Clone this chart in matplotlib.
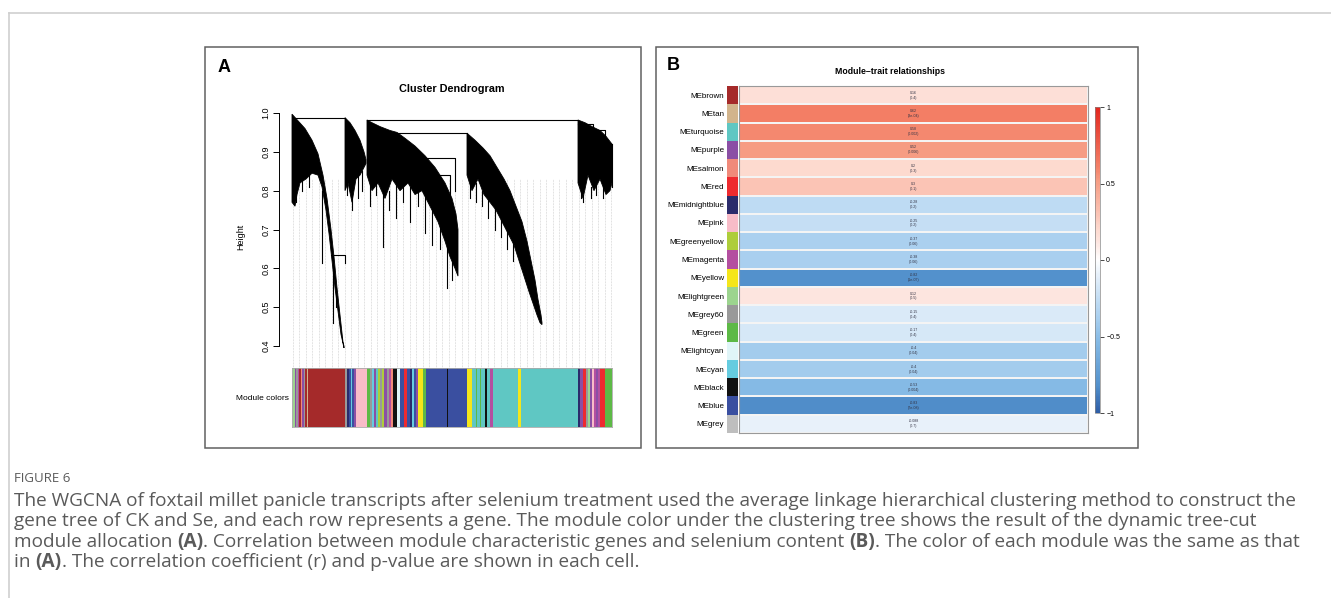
import numpy as np
import matplotlib
matplotlib.use('Agg')
import matplotlib.pyplot as plt
from matplotlib.colors import LinearSegmentedColormap, Normalize
from matplotlib.cm import ScalarMappable

# ---------------- data ----------------
modules = ["brown", "tan", "turquoise", "purple", "salmon", "red", "midnightblue", "pink",
           "greenyellow", "magenta", "yellow", "lightgreen", "grey60", "green", "lightcyan",
           "cyan", "black", "blue", "grey"]
corr = [0.16, 0.62, 0.58, 0.52, 0.2, 0.3, -0.28, -0.25, -0.37, -0.38, -0.82, 0.12,
        -0.15, -0.17, -0.4, -0.4, -0.53, -0.83, -0.088]
pvals = ["0.4", "3e-04", "0.002", "0.006", "0.3", "0.1", "0.2", "0.2", "0.06", "0.06",
         "1e-07", "0.5", "0.4", "0.4", "0.04", "0.04", "0.004", "7e-08", "0.7"]

module_hex = {"brown": "#A52A2A", "tan": "#D2B48C", "turquoise": "#5FC7C3", "purple": "#8B4FA5",
              "salmon": "#F08A7A", "red": "#EE2A2F", "midnightblue": "#2B2B6B", "pink": "#F8BCC8",
              "greenyellow": "#AECD3B", "magenta": "#B44FA0", "yellow": "#F5E61A",
              "lightgreen": "#9CD48E", "grey60": "#999999", "green": "#5DB946",
              "lightcyan": "#E0F5F8", "cyan": "#65CCE0", "black": "#111111", "blue": "#3A4FA0",
              "grey": "#BEBEBE"}

# module colour bar under the dendrogram: (module, start leaf, end leaf)
color_bar = [("grey", 0, 1), ("lightgreen", 1, 2.5), ("purple", 2.5, 4), ("grey60", 4, 5.5),
             ("magenta", 5.5, 7), ("brown", 7, 9), ("salmon", 9, 10), ("purple", 10, 12),
             ("grey60", 12, 13), ("brown", 13, 15), ("tan", 15, 16), ("brown", 16, 53),
             ("grey60", 53, 55), ("midnightblue", 55, 57), ("blue", 57, 59), ("cyan", 59, 60),
             ("blue", 60, 62), ("purple", 62, 64), ("pink", 64, 75), ("green", 75, 78),
             ("grey60", 78, 80), ("cyan", 80, 82), ("purple", 82, 84), ("turquoise", 84, 86),
             ("greenyellow", 86, 88), ("grey60", 88, 90), ("greenyellow", 90, 92),
             ("purple", 92, 95), ("grey60", 95, 97), ("magenta", 97, 99), ("salmon", 99, 101),
             ("black", 101, 105), ("lightcyan", 105, 108), ("blue", 108, 112), ("red", 112, 115),
             ("blue", 115, 118), ("midnightblue", 118, 120), ("cyan", 120, 122), ("blue", 122, 124),
             ("purple", 124, 126), ("yellow", 126, 131), ("green", 131, 134), ("blue", 134, 155),
             ("black", 155, 156), ("blue", 156, 175), ("yellow", 175, 180), ("turquoise", 180, 184),
             ("green", 184, 185), ("turquoise", 185, 188), ("green", 188, 189),
             ("turquoise", 189, 193), ("black", 193, 195), ("turquoise", 195, 198),
             ("magenta", 198, 201), ("turquoise", 201, 226), ("yellow", 226, 229),
             ("turquoise", 229, 286), ("midnightblue", 286, 288), ("purple", 288, 291),
             ("red", 291, 294), ("grey60", 294, 296), ("lightgreen", 296, 298), ("purple", 298, 300),
             ("pink", 300, 302), ("magenta", 302, 304), ("purple", 304, 306), ("magenta", 306, 308),
             ("red", 308, 313), ("green", 313, 320)]

# dendrogram dense branches: upper and lower outline (leaf position, height)
m1_top = [(0, 0.997), (6, 0.98), (13, 0.96), (20, 0.93), (26, 0.895), (31, 0.84), (35, 0.78),
          (39, 0.70), (42, 0.63), (45, 0.55), (48, 0.48), (51, 0.41), (52, 0.40)]
m1_bot = [(0, 0.77), (3, 0.76), (5, 0.79), (8, 0.82), (14, 0.83), (20, 0.845), (26, 0.84),
          (30, 0.81), (34, 0.75), (37, 0.69), (40, 0.62), (43, 0.55), (46, 0.49), (49, 0.43),
          (52, 0.395)]
m2_top = [(53, 0.988), (58, 0.975), (63, 0.955), (68, 0.93), (72, 0.90), (74, 0.88)]
m2_bot = [(53, 0.80), (56, 0.82), (60, 0.77), (64, 0.83), (68, 0.84), (72, 0.86), (74, 0.87)]
m3_top = [(75, 0.982), (80, 0.975), (88, 0.965), (98, 0.955), (105, 0.95), (113, 0.935),
          (123, 0.915), (133, 0.89), (143, 0.86), (153, 0.82), (160, 0.78), (164, 0.74), (166, 0.70)]
m3_bot = [(75, 0.84), (80, 0.80), (86, 0.82), (93, 0.78), (100, 0.83), (108, 0.80), (116, 0.82),
          (123, 0.79), (130, 0.80), (138, 0.76), (146, 0.72), (153, 0.67), (158, 0.63),
          (163, 0.60), (166, 0.58)]
m4_top = [(175, 0.948), (183, 0.93), (191, 0.91), (198, 0.89), (205, 0.86), (212, 0.83),
          (218, 0.80), (224, 0.76), (230, 0.72), (235, 0.67), (239, 0.62), (243, 0.57),
          (246, 0.52), (249, 0.48), (250, 0.46)]
m4_bot = [(175, 0.84), (180, 0.80), (186, 0.83), (192, 0.79), (198, 0.77), (204, 0.75),
          (210, 0.72), (216, 0.69), (222, 0.66), (227, 0.62), (232, 0.58), (237, 0.54),
          (241, 0.51), (245, 0.48), (248, 0.46), (250, 0.455)]
m5_top = [(286, 0.982), (293, 0.975), (300, 0.965), (308, 0.955), (314, 0.94), (320, 0.92)]
m5_bot = [(286, 0.82), (291, 0.78), (296, 0.84), (302, 0.80), (308, 0.83), (314, 0.79),
          (318, 0.80), (320, 0.82)]
branches = [(m1_top, m1_bot), (m2_top, m2_bot), (m3_top, m3_bot), (m4_top, m4_bot), (m5_top, m5_bot)]

# merge links: (left leaf, right leaf, height, left drop to, right drop to)
links = [(1, 53, 0.988, 0.988, 0.988), (75, 286, 0.982, 0.982, 0.982),
         (105, 175, 0.948, 0.948, 0.948), (39, 53, 0.634, 0.634, 0.615),
         (131, 163, 0.884, 0.884, 0.80), (143, 158, 0.84, 0.84, 0.77),
         (286, 301, 0.971, 0.971, 0.95), (295, 313, 0.956, 0.956, 0.93)]
# single leaves hanging below the dense branches: (leaf, top, bottom)
spikes = [(2, 0.80, 0.765), (4, 0.80, 0.77), (10, 0.83, 0.80), (17, 0.84, 0.81),
          (30, 0.80, 0.615), (41, 0.60, 0.46), (44, 0.55, 0.50), (55, 0.82, 0.79),
          (60, 0.80, 0.75), (66, 0.84, 0.78), (70, 0.85, 0.80), (78, 0.82, 0.76),
          (84, 0.82, 0.79), (91, 0.80, 0.655), (97, 0.80, 0.75), (104, 0.82, 0.73),
          (111, 0.81, 0.77), (118, 0.81, 0.72), (126, 0.80, 0.76), (133, 0.79, 0.69),
          (140, 0.76, 0.66), (148, 0.71, 0.65), (155, 0.66, 0.55), (160, 0.62, 0.57),
          (178, 0.82, 0.78), (184, 0.82, 0.77), (190, 0.80, 0.76), (196, 0.78, 0.73),
          (203, 0.76, 0.70), (209, 0.73, 0.68), (215, 0.70, 0.65), (221, 0.67, 0.62),
          (289, 0.80, 0.78), (291, 0.79, 0.77), (299, 0.81, 0.78), (304, 0.82, 0.79),
          (311, 0.81, 0.78), (320, 0.92, 0.81)]

height_ticks = [0.4, 0.5, 0.6, 0.7, 0.8, 0.9, 1.0]
cbar_ticks = [-1, -0.5, 0, 0.5, 1]

caption_title = "FIGURE 6"
caption_lines = [
    [("The WGCNA of foxtail millet panicle transcripts after selenium treatment used the average linkage hierarchical clustering method to construct the", False)],
    [("gene tree of CK and Se, and each row represents a gene. The module color under the clustering tree shows the result of the dynamic tree-cut", False)],
    [("module allocation ", False), ("(A)", True), (". Correlation between module characteristic genes and selenium content ", False),
     ("(B)", True), (". The color of each module was the same as that", False)],
    [("in ", False), ("(A)", True), (". The correlation coefficient (r) and p-value are shown in each cell.", False)],
]

# ---------------- figure ----------------
W, H = 1331, 598
fig = plt.figure(figsize=(W / 100, H / 100), dpi=100)
SANS = ["Liberation Sans", "DejaVu Sans"]
NARROW = ["Liberation Sans Narrow", "Liberation Sans", "DejaVu Sans"]


def rect(x0, y0, x1, y1):
    return [x0 / W, 1 - y1 / H, (x1 - x0) / W, (y1 - y0) / H]


# page frame lines
bg = fig.add_axes([0, 0, 1, 1], facecolor='none')
bg.set_xlim(0, W)
bg.set_ylim(H, 0)
bg.axis('off')
bg.plot([9, 9], [13, H], color='#CFCFCF', lw=1.2)
bg.plot([9, W], [13, 13], color='#CFCFCF', lw=1.2)
# panel frames
bg.add_patch(plt.Rectangle((205, 47), 436, 401, fill=False, ec='#606060', lw=1.1))
bg.add_patch(plt.Rectangle((656, 47), 482, 401, fill=False, ec='#606060', lw=1.1))
bg.text(224, 67, "A", fontsize=13, fontweight='bold', family=SANS, ha='center', va='center')
bg.text(673, 66, "B", fontsize=13, fontweight='bold', family=SANS, ha='center', va='center')

# ---------------- panel A: dendrogram ----------------
def px2h(py):
    return 1 - (py - 113) / (233 / 6 * 10)

ax = fig.add_axes(rect(279, 105, 625, 368))
ax.set_xlim(-13, 333)
ax.set_ylim(px2h(368), px2h(105))
for s in ['top', 'right', 'bottom']:
    ax.spines[s].set_visible(False)
ax.spines['left'].set_bounds(0.4, 1.0)
ax.spines['left'].set_linewidth(0.7)
ax.set_xticks([])
ax.set_yticks(height_ticks)
ax.set_yticklabels([f"{t:.1f}" for t in height_ticks], rotation=90, va='center',
                   fontsize=6.5, family=SANS)
ax.tick_params(axis='y', length=4, width=0.7, pad=2)
ax.set_ylabel("Height", fontsize=6.5, family=SANS, labelpad=12)
ax.set_title("Cluster Dendrogram", fontsize=7.8, fontweight='bold', family=SANS, pad=9.5)

# guide lines (evenly spaced leaves)
guides = np.linspace(1, 319, 50)
for g in guides:
    ax.plot([g, g], [px2h(368), 0.83], color='#C4C4C4', lw=0.5, ls=(0, (1, 1.2)), zorder=1)

for top, bot in branches:
    xs = [p[0] for p in top] + [p[0] for p in bot][::-1]
    ys = [p[1] for p in top] + [p[1] for p in bot][::-1]
    ax.fill(xs, ys, color='black', lw=0.6, zorder=3)
for x0, x1, h, d0, d1 in links:
    ax.plot([x0, x0, x1, x1], [d0, h, h, d1], color='black', lw=0.8, zorder=3)
for x, t, b in spikes:
    ax.plot([x, x], [t, b], color='black', lw=0.8, zorder=3)

# module colour strip
cb = fig.add_axes(rect(292, 368, 612, 427))
cb.set_xlim(0, 320)
cb.set_ylim(0, 1)
for name, s, e in color_bar:
    cb.bar(s, 1, width=e - s, bottom=0, align='edge', color=module_hex[name], lw=0)
cb.set_xticks([])
cb.set_yticks([])
for s in cb.spines.values():
    s.set_color('#AAAAAA')
    s.set_linewidth(0.6)
bg.text(262, 398, "Module colors", fontsize=6, family=SANS, ha='center', va='center')

# ---------------- panel B: heatmap ----------------
stops = [(-1, '#2E5DA6'), (-0.82, '#5391CC'), (-0.53, '#85BAE5'), (-0.38, '#A9CFEF'),
         (-0.25, '#C4DEF4'), (-0.1, '#E6F0FA'), (0, '#FFFFFF'), (0.12, '#FDE5DF'),
         (0.2, '#FDDACF'), (0.3, '#FBC4B5'), (0.52, '#F69C83'), (0.6, '#F4836A'), (1, '#E3261D')]
cmap = LinearSegmentedColormap.from_list("bwr_wgcna", [((v + 1) / 2, c) for v, c in stops])
norm = Normalize(-1, 1)

n = len(modules)
hm = fig.add_axes(rect(739, 86, 1088, 433))
hm.pcolormesh(np.arange(2), np.arange(n + 1), np.array(corr).reshape(-1, 1), cmap=cmap, norm=norm,
              edgecolors='#F4F4F4', linewidth=0.3)
hm.set_xlim(0, 1)
hm.set_ylim(n, 0)
hm.set_xticks([])
hm.set_yticks([])
for s in hm.spines.values():
    s.set_color('#999999')
    s.set_linewidth(0.8)
for i, (r, p) in enumerate(zip(corr, pvals)):
    hm.text(0.5, i + 0.5, f"{r:g}\n({p})", fontsize=2.6, ha='center', va='center',
            color='#333344', linespacing=1.3, family=SANS)

sq = fig.add_axes(rect(727, 86, 738, 433))
sq.set_xlim(0, 1)
sq.set_ylim(n, 0)
for i, m in enumerate(modules):
    sq.bar(0, 1, width=1, bottom=i, align='edge', color=module_hex[m], lw=0)
sq.set_xticks([])
sq.set_yticks(np.arange(n) + 0.5)
sq.set_yticklabels(["ME" + m for m in modules], fontsize=5.8, family=NARROW)
sq.tick_params(axis='y', length=0, pad=2)
for s in sq.spines.values():
    s.set_visible(False)
bg.text(890, 72, "Module\u2013trait relationships", fontsize=6.3, fontweight='bold',
        family=SANS, ha='center', va='center')

cax = fig.add_axes(rect(1095, 107, 1100, 413))
cbar = fig.colorbar(ScalarMappable(norm=norm, cmap=cmap), cax=cax, ticks=cbar_ticks)
cbar.ax.set_yticklabels(["\u22121", "\u22120.5", "0", "0.5", "1"], fontsize=5, family=SANS)
cbar.ax.tick_params(length=3, width=0.5, pad=1.5)
cbar.outline.set_edgecolor('#888888')
cbar.outline.set_linewidth(0.5)

# ---------------- caption ----------------
CAP = ["Open Sans", "DejaVu Sans"]
cap_color = '#5A5A5A'
bg.text(14, 482, caption_title, fontsize=9.5, family=CAP, color=cap_color, va='baseline',
        ha='left')

renderer = fig.canvas.get_renderer()
probe = fig.text(0, 0, caption_lines[0][0][0], fontsize=10, family=CAP)
w10 = probe.get_window_extent(renderer=renderer).width
probe.remove()
cap_size = 10 * (1287 / w10)

for k, runs in enumerate(caption_lines):
    x = 14
    yb = 505.5 + 20.6 * k
    for txt, bold in runs:
        t = bg.text(x, yb, txt, fontsize=cap_size, family=CAP, color=cap_color,
                    fontweight='bold' if bold else 'normal', va='baseline', ha='left')
        x += t.get_window_extent(renderer=renderer).width

fig.savefig("out.png", dpi=100)
